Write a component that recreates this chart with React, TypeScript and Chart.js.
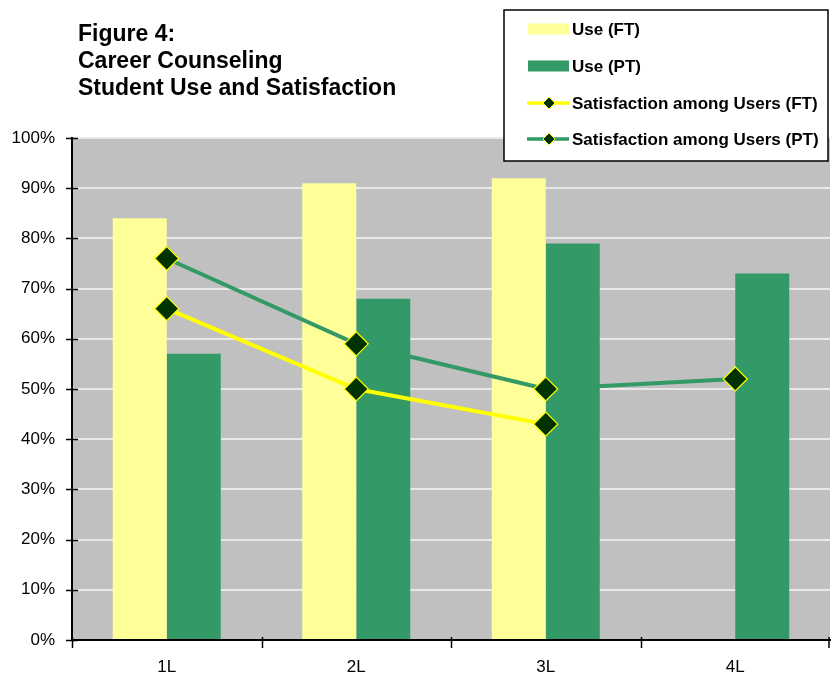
import React, { useEffect, useRef } from "react";
import { Chart, registerables } from "chart.js";

Chart.register(...registerables);

const categories = ["1L", "2L", "3L", "4L"];
const useFT: (number | null)[] = [84, 91, 92, null];
const usePT: (number | null)[] = [57, 68, 79, 73];
const satFT: (number | null)[] = [66, 50, 43, null];
const satPT: (number | null)[] = [76, 59, 50, 52];
const titleLines = ["Figure 4:", "Career Counseling", "Student Use and Satisfaction"];
const legendLabels = [
  "Use (FT)",
  "Use (PT)",
  "Satisfaction among Users (FT)",
  "Satisfaction among Users (PT)",
];

const FONT = "'Liberation Sans', Arial, sans-serif";
const C_FT_BAR = "#FFFF99";
const C_PT = "#339966";
const C_FT_LINE = "#FFFF00";
const C_MARK = "#003300";

function diamond(ctx: CanvasRenderingContext2D, x: number, y: number, r: number) {
  ctx.beginPath();
  ctx.moveTo(x, y - r);
  ctx.lineTo(x + r, y);
  ctx.lineTo(x, y + r);
  ctx.lineTo(x - r, y);
  ctx.closePath();
  ctx.fillStyle = C_MARK;
  ctx.fill();
  ctx.strokeStyle = C_FT_LINE;
  ctx.lineWidth = 1;
  ctx.stroke();
}

const decorPlugin = {
  id: "decor",
  beforeDraw(chart: any) {
    const { ctx, chartArea } = chart;
    ctx.save();
    ctx.fillStyle = "#FFFFFF";
    ctx.fillRect(0, 0, chart.width, chart.height);
    ctx.fillStyle = "#C0C0C0";
    ctx.fillRect(chartArea.left, chartArea.top, chartArea.right - chartArea.left, chartArea.bottom - chartArea.top);
    ctx.restore();
  },
  afterDraw(chart: any) {
    const { ctx, chartArea } = chart;
    const yScale = chart.scales.y;
    ctx.save();
    // crossing tick marks
    ctx.strokeStyle = "#000";
    ctx.lineWidth = 1.5;
    yScale.ticks.forEach((t: any) => {
      const y = Math.round(yScale.getPixelForValue(t.value)) + 0.5;
      ctx.beginPath();
      ctx.moveTo(chartArea.left - 6, y);
      ctx.lineTo(chartArea.left + 6, y);
      ctx.stroke();
    });
    const n = categories.length;
    const w = (chartArea.right - chartArea.left) / n;
    for (let i = 0; i <= n; i++) {
      const x = Math.min(Math.round(chartArea.left + i * w) + 0.5, chartArea.right - 1);
      ctx.beginPath();
      ctx.moveTo(x, chartArea.bottom - 3);
      ctx.lineTo(x, chartArea.bottom + 8);
      ctx.stroke();
    }

    // title
    ctx.fillStyle = "#000";
    ctx.font = `bold 23px ${FONT}`;
    ctx.textBaseline = "alphabetic";
    ctx.textAlign = "left";
    titleLines.forEach((line, i) => {
      ctx.fillText(line, 78, 41 + i * 26.8);
    });

    // legend box
    const bx = 504, by = 10, bw = 324, bh = 151;
    ctx.fillStyle = "#FFFFFF";
    ctx.fillRect(bx, by, bw, bh);
    ctx.strokeStyle = "#000";
    ctx.lineWidth = 1.5;
    ctx.strokeRect(bx, by, bw, bh);

    const rows = [29, 66, 103, 139];
    ctx.font = `bold 17px ${FONT}`;
    ctx.textBaseline = "middle";
    legendLabels.forEach((label, i) => {
      const yy = rows[i];
      if (i === 0 || i === 1) {
        ctx.fillStyle = i === 0 ? C_FT_BAR : C_PT;
        ctx.fillRect(528, yy - 5.5, 41, 11);
      } else {
        ctx.strokeStyle = i === 2 ? C_FT_LINE : C_PT;
        ctx.lineWidth = 3.5;
        ctx.beginPath();
        ctx.moveTo(527, yy);
        ctx.lineTo(569, yy);
        ctx.stroke();
        diamond(ctx, 549, yy, 6);
      }
      ctx.fillStyle = "#000";
      ctx.fillText(label, 572, yy + 1);
    });
    ctx.restore();
  },
};

export default function App() {
  const ref = useRef<HTMLCanvasElement | null>(null);
  useEffect(() => {
    if (!ref.current) return;
    const chart = new Chart(ref.current, {
      type: "bar",
      data: {
        labels: categories,
        datasets: [
          {
            type: "bar",
            label: legendLabels[0],
            data: useFT,
            backgroundColor: C_FT_BAR,
            borderWidth: 0,
            order: 2,
            categoryPercentage: 0.57,
            barPercentage: 1,
          },
          {
            type: "bar",
            label: legendLabels[1],
            data: usePT,
            backgroundColor: C_PT,
            borderWidth: 0,
            order: 2,
            categoryPercentage: 0.57,
            barPercentage: 1,
          },
          {
            type: "line",
            label: legendLabels[2],
            data: satFT,
            borderColor: C_FT_LINE,
            borderWidth: 4,
            pointStyle: "rectRot",
            pointRadius: 12,
            pointBackgroundColor: C_MARK,
            pointBorderColor: C_FT_LINE,
            pointBorderWidth: 1.2,
            spanGaps: false,
            order: 0,
          } as any,
          {
            type: "line",
            label: legendLabels[3],
            data: satPT,
            borderColor: C_PT,
            borderWidth: 4,
            pointStyle: "rectRot",
            pointRadius: 12,
            pointBackgroundColor: C_MARK,
            pointBorderColor: C_FT_LINE,
            pointBorderWidth: 1.2,
            order: 1,
          } as any,
        ],
      },
      options: {
        responsive: false,
        animation: false,
        devicePixelRatio: 1,
        layout: { autoPadding: false, padding: { left: 0, right: 3, top: 138, bottom: 0 } },
        plugins: {
          legend: { display: false },
          title: { display: false },
          tooltip: { enabled: false },
        },
        scales: {
          x: {
            type: "category",
            offset: true,
            grid: { display: true, drawOnChartArea: false, drawTicks: false },
            border: { display: true, color: "#000", width: 2 },
            ticks: {
              color: "#000",
              font: { family: FONT, size: 17 },
              padding: 17,
            },
            afterFit: (s: any) => {
              s.height = 34;
              s.paddingLeft = 0;
              s.paddingRight = 0;
            },
          },
          y: {
            min: 0,
            max: 100,
            ticks: {
              stepSize: 10,
              color: "#000",
              font: { family: FONT, size: 17 },
              padding: 17,
              callback: (v: any) => `${v}%`,
            },
            grid: { color: "#E8E8E8", lineWidth: 2, drawTicks: false },
            border: { display: true, color: "#000", width: 2 },
            afterFit: (s: any) => {
              s.width = 72;
              s.paddingTop = 0;
              s.paddingBottom = 0;
            },
          },
        },
      },
      plugins: [decorPlugin],
    });
    return () => chart.destroy();
  }, []);
  return (
    <div style={{ position: "absolute", left: 0, top: 0, width: 833, height: 674 }}>
      <canvas ref={ref} width={833} height={674} style={{ width: 833, height: 674 }} />
    </div>
  );
}
